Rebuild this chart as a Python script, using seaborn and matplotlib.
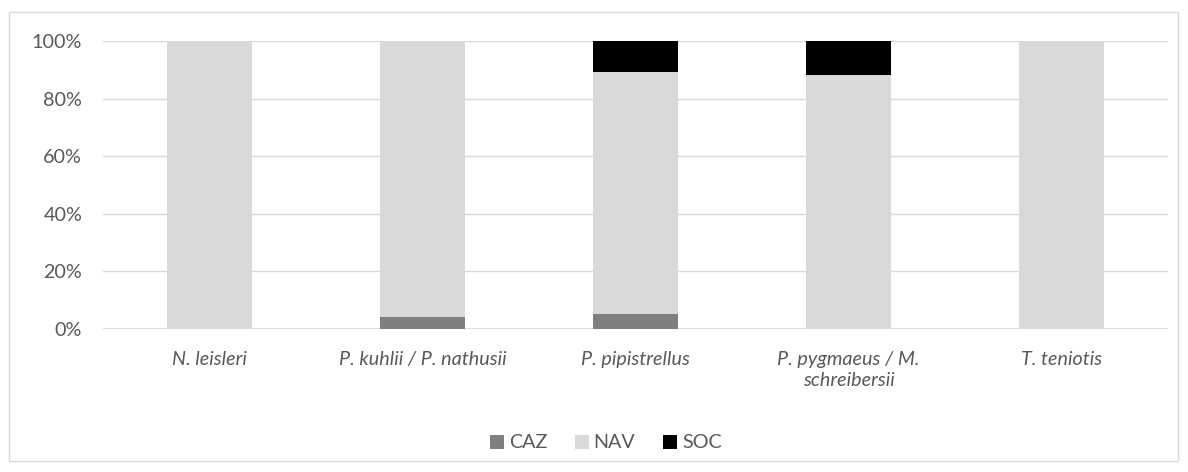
import matplotlib
matplotlib.use("Agg")
import matplotlib.pyplot as plt
import seaborn as sns
import numpy as np
from matplotlib.patches import Rectangle, Patch

categories = ["N. leisleri", "P. kuhlii / P. nathusii", "P. pipistrellus",
              "P. pygmaeus / M.\nschreibersii", "T. teniotis"]
caz = [0.0, 4.3, 5.1, 0.0, 0.0]
nav = [100.0, 95.7, 84.1, 88.2, 100.0]
soc = [0.0, 0.0, 10.8, 11.8, 0.0]
series_names = ["CAZ", "NAV", "SOC"]
colors = ["#7f7f7f", "#d9d9d9", "#000000"]
yticks = [0, 20, 40, 60, 80, 100]

sns.set_theme(style="white")
plt.rcParams['font.family'] = ['Lato', 'DejaVu Sans']
txt = "#595959"
fs = 14.2

W, H = 1188, 472
fig = plt.figure(figsize=(W/100, H/100), dpi=100)
ax = fig.add_axes([103/W, 1-329/H, (1168-103)/W, (329-41)/H])

bottom = np.zeros(len(categories))
for name, vals, c in zip(series_names, [caz, nav, soc], colors):
    sns.barplot(x=categories, y=vals, bottom=bottom, color=c, width=0.4,
                ax=ax, saturation=1, zorder=3, linewidth=0, edgecolor='none')
    bottom = bottom + np.array(vals)

ax.set_ylim(0, 100)
ax.set_xlim(-0.5, 4.5)
ax.set_yticks(yticks)
ax.set_yticklabels([f"{v}%" for v in yticks], color=txt, fontsize=fs)
ax.yaxis.grid(True, color="#d9d9d9", linewidth=1, zorder=0)
ax.set_axisbelow(True)
for s in ax.spines.values():
    s.set_visible(False)
ax.tick_params(axis='both', length=0)
ax.tick_params(axis='y', pad=15)
ax.tick_params(axis='x', pad=16)
ax.set_xticks(range(len(categories)))
ax.set_xticklabels(categories, color=txt, fontsize=fs, style='italic',
                   linespacing=1.25, va='top')
ax.axhline(0, color="#d9d9d9", linewidth=1.2, zorder=2)

handles = [Patch(facecolor=c, edgecolor='none') for c in colors]
fig.legend(handles, series_names, loc='center', bbox_to_anchor=(0.51, 1-443/H),
           ncol=3, frameon=False, fontsize=fs, labelcolor=txt,
           handlelength=0.7, handleheight=0.7, handletextpad=0.25, columnspacing=1.4)

fig.patches.append(Rectangle((9/W, 1-461/H), (1178-9)/W, (461-12)/H,
                             transform=fig.transFigure, fill=False,
                             edgecolor="#d9d9d9", linewidth=1))
fig.savefig("out.png", dpi=100)
